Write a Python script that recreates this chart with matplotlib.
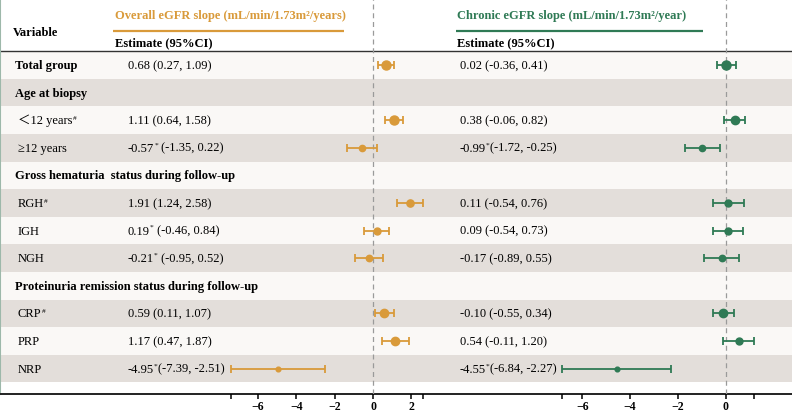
import matplotlib
matplotlib.use("Agg")
import matplotlib.pyplot as plt

# ---- data ----
labels = ["Total group", "Age at biopsy", "\uff1c12 years#", "\u226512 years",
          "Gross hematuria  status during follow-up", "RGH#", "IGH", "NGH",
          "Proteinuria remission status during follow-up", "CRP#", "PRP", "NRP"]
is_header = [True, True, False, False, True, False, False, False, True, False, False, False]

left_est = [0.68, None, 1.11, -0.57, None, 1.91, 0.19, -0.21, None, 0.59, 1.17, -4.95]
left_lo = [0.27, None, 0.64, -1.35, None, 1.24, -0.46, -0.95, None, 0.11, 0.47, -7.39]
left_hi = [1.09, None, 1.58, 0.22, None, 2.58, 0.84, 0.52, None, 1.07, 1.87, -2.51]
left_txt = ["0.68 (0.27, 1.09)", "", "1.11 (0.64, 1.58)", "-0.57* (-1.35, 0.22)", "",
            "1.91 (1.24, 2.58)", "0.19* (-0.46, 0.84)", "-0.21* (-0.95, 0.52)", "",
            "0.59 (0.11, 1.07)", "1.17 (0.47, 1.87)", "-4.95*(-7.39, -2.51)"]

right_est = [0.02, None, 0.38, -0.99, None, 0.11, 0.09, -0.17, None, -0.10, 0.54, -4.55]
right_lo = [-0.36, None, -0.06, -1.72, None, -0.54, -0.54, -0.89, None, -0.55, -0.11, -6.84]
right_hi = [0.41, None, 0.82, -0.25, None, 0.76, 0.73, 0.55, None, 0.34, 1.20, -2.27]
right_txt = ["0.02 (-0.36, 0.41)", "", "0.38 (-0.06, 0.82)", "-0.99*(-1.72, -0.25)", "",
             "0.11 (-0.54, 0.76)", "0.09 (-0.54, 0.73)", "-0.17 (-0.89, 0.55)", "",
             "-0.10 (-0.55, 0.34)", "0.54 (-0.11, 1.20)", "-4.55*(-6.84, -2.27)"]

# marker sizes (pt) per row
left_ms = [6.5, 0, 6.5, 4.5, 0, 5.2, 5.0, 4.6, 0, 6.0, 6.0, 3.4]
right_ms = [6.5, 0, 6.0, 4.5, 0, 5.0, 5.0, 4.6, 0, 6.0, 5.0, 3.4]

left_ticks = [-7.39, -6, -4, -2, 0, 2, 2.58]
left_ticklab = ["", "\u22126", "\u22124", "\u22122", "0", "2", ""]
right_ticks = [-6.84, -6, -4, -2, 0, 1.20]
right_ticklab = ["", "\u22126", "\u22124", "\u22122", "0", ""]

left_title = "Overall eGFR slope (mL/min/1.73m\u00b2/years)"
right_title = "Chronic eGFR slope (mL/min/1.73m\u00b2/year)"

ORANGE = "#D99A3A"
GREEN = "#2F7A55"
GRAY_ROW = "#E3DEDA"
WHITE_ROW = "#FAF8F6"
FONT = ["Liberation Serif", "Noto Sans CJK SC", "DejaVu Serif"]

plt.rcParams["font.family"] = FONT
plt.rcParams["font.size"] = 9

W, H = 792, 414
fig = plt.figure(figsize=(W / 100, H / 100), dpi=100)

n = len(labels)
ylim = (11.92, -2.39)
bottom = 19 / H
height = 395 / H

# table axes: x in pixels, y in row units
tab = fig.add_axes([0, bottom, 1, height])
tab.set_xlim(0, W)
tab.set_ylim(*ylim)
tab.set_xticks([])
tab.set_yticks([])
for s in ["top", "right"]:
    tab.spines[s].set_visible(False)
tab.spines["bottom"].set_linewidth(1.4)
tab.spines["bottom"].set_color("#222222")
tab.spines["left"].set_color("#9DB8AA")
tab.spines["left"].set_linewidth(1.5)

for i in range(n):
    tab.axhspan(i - 0.5, i + 0.5, color=GRAY_ROW if i % 2 else WHITE_ROW, lw=0, zorder=0)


def put(ax, x, y, s, weight="normal", color="black", size=9):
    # plain text with '#' and '*' shown as superscripts
    chunks = []
    cur = ""
    for ch in s:
        if ch in "#*":
            if cur:
                chunks.append((cur, False))
            chunks.append((ch, True))
            cur = ""
        else:
            cur += ch
    if cur:
        chunks.append((cur, False))
    first = ax.text(x, y, chunks[0][0], va="center", ha="left", fontweight=weight,
                    color=color, fontsize=size)
    prev = first
    for txt, sup in chunks[1:]:
        if sup:
            raise_ = 0.62 if txt == "*" else 0.52
            prev = ax.annotate(txt, xy=(1, raise_), xycoords=(prev, first), va="bottom",
                               ha="left", fontsize=size * 0.6, color=color, fontweight=weight)
        else:
            prev = ax.annotate(txt, xy=(1, 0), xycoords=(prev, first), va="bottom",
                               ha="left", fontsize=size, color=color, fontweight=weight)
    return first


for i in range(n):
    if is_header[i]:
        put(tab, 15, i, labels[i], weight="bold")
    else:
        put(tab, 18, i, labels[i])
    if left_txt[i]:
        put(tab, 128, i, left_txt[i])
    if right_txt[i]:
        put(tab, 460, i, right_txt[i])

# header
tab.text(13, -1.18, "Variable", fontweight="bold", va="center", ha="left")
tab.text(115, -1.82, left_title, fontweight="bold", color=ORANGE, va="center", ha="left")
tab.plot([113, 344], [-1.24, -1.24], color=ORANGE, lw=1.6, solid_capstyle="butt")
tab.text(115, -0.84, "Estimate (95%CI)", fontweight="bold", va="center", ha="left")
tab.text(457, -1.82, right_title, fontweight="bold", color=GREEN, va="center", ha="left")
tab.plot([456, 703], [-1.24, -1.24], color=GREEN, lw=1.6, solid_capstyle="butt")
tab.text(457, -0.84, "Estimate (95%CI)", fontweight="bold", va="center", ha="left")
tab.axhline(-0.52, color="#333333", lw=1.0)


def forest(x0, x1, xlim, est, lo, hi, ms, color, ticks, ticklab):
    ax = fig.add_axes([x0 / W, bottom, (x1 - x0) / W, height])
    ax.set_xlim(*xlim)
    ax.set_ylim(*ylim)
    ax.patch.set_alpha(0)
    for s in ax.spines.values():
        s.set_visible(False)
    ax.set_yticks([])
    ax.axvline(0, color="#9A9A9A", lw=0.9, ls=(0, (4, 3)), zorder=1)
    for i in range(n):
        if est[i] is None:
            continue
        ax.errorbar(est[i], i, xerr=[[est[i] - lo[i]], [hi[i] - est[i]]], fmt="o",
                    color=color, ms=ms[i], elinewidth=1.3, capsize=3.2, capthick=1.3,
                    clip_on=False, zorder=3)
    ax.set_xticks(ticks)
    ax.set_xticklabels(ticklab, fontweight="bold")
    ax.tick_params(axis="x", direction="out", length=3.8, width=1.1, pad=0.3, labelsize=8.5)
    return ax


forest(231.3, 422.5, (-7.39, 2.58), left_est, left_lo, left_hi, left_ms, ORANGE,
       left_ticks, left_ticklab)
forest(562.2, 754.4, (-6.84, 1.20), right_est, right_lo, right_hi, right_ms, GREEN,
       right_ticks, right_ticklab)

fig.savefig("out.png", dpi=100, facecolor="white")
